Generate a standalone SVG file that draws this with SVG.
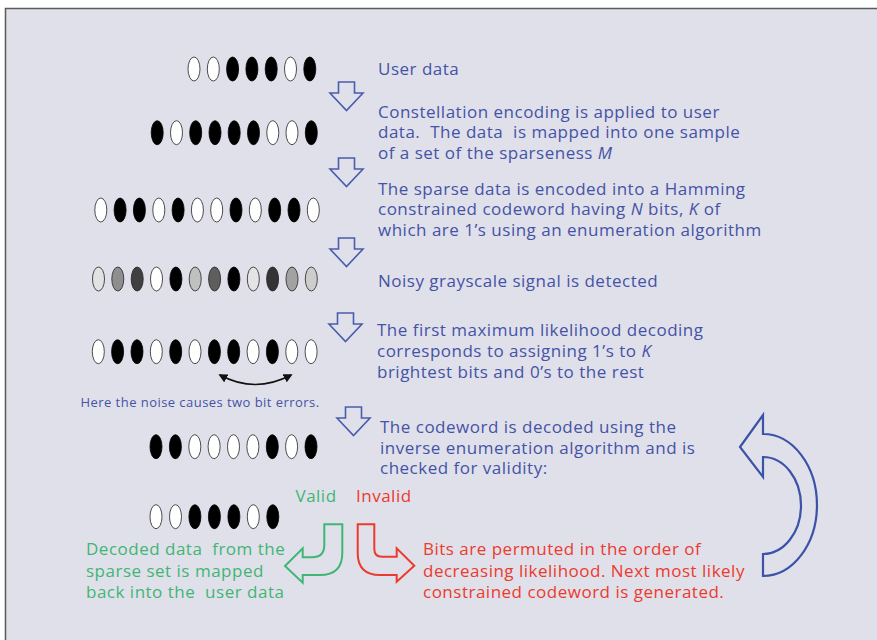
<svg xmlns="http://www.w3.org/2000/svg" width="877" height="640" viewBox="0 0 877 640">
  <style>
    .bg { fill: #e0e0ea; stroke: #5a5a5a; stroke-width: 1.5; }
    .w { fill: #ffffff; stroke: #222; stroke-width: 0.8; }
    .b { fill: #000000; stroke: #000; stroke-width: 0.8; }
    .t { font-family: "Open Sans", "Liberation Sans", sans-serif; font-size: 17px; letter-spacing: 0.5px; white-space: pre; }
    .blue { fill: #4553a6; }
    .green { fill: #3fb674; }
    .red { fill: #ec3a2d; }
    .note { font-family: "Open Sans", "Liberation Sans", sans-serif; font-size: 13px; letter-spacing: 0.45px; fill: #4553a6; }
    .down { fill: none; stroke: #4a5cae; stroke-width: 1.6; stroke-linejoin: miter; }
  </style>
  <defs>
    <ellipse id="e" cx="0" cy="0" rx="6" ry="12"/>
    <path id="dn" d="M8.5 0 H24.5 V11 H33 L16.5 28.5 L0 11 H8.5 Z"/>
    <marker id="ah" viewBox="0 0 10 10" refX="8" refY="5" markerWidth="9" markerHeight="9" orient="auto-start-reverse" markerUnits="userSpaceOnUse">
      <path d="M0 0 L10 5 L0 10 Z" fill="#111"/>
    </marker>
  </defs>

  <!-- panel -->
  <rect class="bg" x="5.5" y="8.5" width="900" height="700"/>

  <!-- bit rows -->
  <g id="row-user">
    <use href="#e" class="w" x="194" y="69"/>
    <use href="#e" class="w" x="213.3" y="69"/>
    <use href="#e" class="b" x="232.6" y="69"/>
    <use href="#e" class="b" x="251.9" y="69"/>
    <use href="#e" class="b" x="271.2" y="69"/>
    <use href="#e" class="w" x="290.5" y="69"/>
    <use href="#e" class="b" x="309.8" y="69"/>
  </g>
  <g id="row-sparse">
    <use href="#e" class="b" x="157.2" y="132.7"/>
    <use href="#e" class="w" x="176.5" y="132.7"/>
    <use href="#e" class="b" x="195.7" y="132.7"/>
    <use href="#e" class="b" x="215" y="132.7"/>
    <use href="#e" class="b" x="234.2" y="132.7"/>
    <use href="#e" class="b" x="253.5" y="132.7"/>
    <use href="#e" class="w" x="272.8" y="132.7"/>
    <use href="#e" class="w" x="292" y="132.7"/>
    <use href="#e" class="b" x="311.3" y="132.7"/>
  </g>
  <g id="row-codeword">
    <use href="#e" class="w" x="100.8" y="210"/>
    <use href="#e" class="b" x="120.1" y="210"/>
    <use href="#e" class="b" x="139.4" y="210"/>
    <use href="#e" class="w" x="158.8" y="210"/>
    <use href="#e" class="b" x="178.1" y="210"/>
    <use href="#e" class="w" x="197.4" y="210"/>
    <use href="#e" class="w" x="216.7" y="210"/>
    <use href="#e" class="b" x="236" y="210"/>
    <use href="#e" class="w" x="255.3" y="210"/>
    <use href="#e" class="b" x="274.7" y="210"/>
    <use href="#e" class="b" x="294" y="210"/>
    <use href="#e" class="w" x="313.3" y="210"/>
  </g>
  <g id="row-noisy">
    <use href="#e" class="w" x="98.5" y="279" style="fill:#e2e2e2"/>
    <use href="#e" class="w" x="117.8" y="279" style="fill:#8e8e8e"/>
    <use href="#e" class="w" x="137.2" y="279" style="fill:#404040"/>
    <use href="#e" class="w" x="156.5" y="279" style="fill:#ffffff"/>
    <use href="#e" class="b" x="175.9" y="279"/>
    <use href="#e" class="w" x="195.2" y="279" style="fill:#c0c0c0"/>
    <use href="#e" class="w" x="214.6" y="279" style="fill:#5e5e5e"/>
    <use href="#e" class="b" x="233.9" y="279"/>
    <use href="#e" class="w" x="253.3" y="279" style="fill:#e4e4e4"/>
    <use href="#e" class="w" x="272.6" y="279" style="fill:#343434"/>
    <use href="#e" class="w" x="292" y="279" style="fill:#a2a2a2"/>
    <use href="#e" class="w" x="311.3" y="279" style="fill:#cdcdcd"/>
  </g>
  <g id="row-decision">
    <use href="#e" class="w" x="98.3" y="351.7"/>
    <use href="#e" class="b" x="117.6" y="351.7"/>
    <use href="#e" class="b" x="137" y="351.7"/>
    <use href="#e" class="w" x="156.3" y="351.7"/>
    <use href="#e" class="b" x="175.7" y="351.7"/>
    <use href="#e" class="w" x="195" y="351.7"/>
    <use href="#e" class="b" x="214.4" y="351.7"/>
    <use href="#e" class="b" x="233.7" y="351.7"/>
    <use href="#e" class="w" x="253.1" y="351.7"/>
    <use href="#e" class="b" x="272.4" y="351.7"/>
    <use href="#e" class="w" x="291.8" y="351.7"/>
    <use href="#e" class="w" x="311.1" y="351.7"/>
  </g>
  <g id="row-decoded">
    <use href="#e" class="b" x="156" y="446.7"/>
    <use href="#e" class="b" x="175.4" y="446.7"/>
    <use href="#e" class="w" x="194.8" y="446.7"/>
    <use href="#e" class="w" x="214.1" y="446.7"/>
    <use href="#e" class="w" x="233.5" y="446.7"/>
    <use href="#e" class="w" x="252.9" y="446.7"/>
    <use href="#e" class="b" x="272.3" y="446.7"/>
    <use href="#e" class="w" x="291.6" y="446.7"/>
    <use href="#e" class="b" x="311" y="446.7"/>
  </g>
  <g id="row-output">
    <use href="#e" class="w" x="156" y="516.7"/>
    <use href="#e" class="w" x="175.5" y="516.7"/>
    <use href="#e" class="b" x="194.9" y="516.7"/>
    <use href="#e" class="b" x="214.4" y="516.7"/>
    <use href="#e" class="b" x="233.9" y="516.7"/>
    <use href="#e" class="w" x="253.3" y="516.7"/>
    <use href="#e" class="b" x="272.8" y="516.7"/>
  </g>

  <!-- connectors -->
  <g id="connectors">
    <use href="#dn" class="down" x="330" y="82"/>
    <use href="#dn" class="down" x="330" y="158"/>
    <use href="#dn" class="down" x="330" y="238"/>
    <use href="#dn" class="down" x="329" y="313"/>
    <use href="#dn" class="down" x="337" y="407"/>
    <!-- two bit errors swap -->
    <path d="M220 375 Q 255 394 291 375" fill="none" stroke="#111" stroke-width="1.6" marker-start="url(#ah)" marker-end="url(#ah)"/>
    <!-- valid branch -->
    <path d="M324.3 524.3 H342.3 V553 Q342.3 575 320 575 H302.7 V582.7 L285 566 L302.7 548.3 V557.3 H312 Q324.3 557.3 324.3 545 Z" fill="none" stroke="#3fb674" stroke-width="2" stroke-linejoin="miter"/>
    <!-- invalid branch -->
    <path d="M357.7 524.3 H374.3 V549 Q374.3 556.7 382 556.7 H396.7 V548.3 L414.3 565.7 L396.7 581.7 V575 H380 Q357.7 575 357.7 553 Z" fill="none" stroke="#ec3a2d" stroke-width="2" stroke-linejoin="miter"/>
    <!-- retry loop -->
    <path d="M740 447 L763 415 V434 A54 71 0 0 1 763 576 V554 A38 48.5 0 0 0 763 457 V477 Z" fill="none" stroke="#3a52a8" stroke-width="2.2" stroke-linejoin="miter"/>
  </g>

  <!-- step labels -->
  <g id="label-user" class="t blue"><text x="378" y="75">User data</text></g>
  <g id="label-constellation" class="t blue">
    <text x="378" y="117.7">Constellation encoding is applied to user</text>
    <text xml:space="preserve" x="378" y="138.3">data.  The data  is mapped into one sample</text>
    <text x="378" y="158.8">of a set of the sparseness <tspan font-style="italic">M</tspan></text>
  </g>
  <g id="label-hamming" class="t blue">
    <text x="378" y="195">The sparse data is encoded into a Hamming</text>
    <text x="378" y="215.3">constrained codeword having <tspan font-style="italic">N</tspan> bits, <tspan font-style="italic">K</tspan> of</text>
    <text x="378" y="235.6">which are 1’s using an enumeration algorithm</text>
  </g>
  <g id="label-noisy" class="t blue"><text x="378" y="286.7">Noisy grayscale signal is detected</text></g>
  <g id="label-ml" class="t blue">
    <text x="377" y="336">The first maximum likelihood decoding</text>
    <text x="377" y="357">corresponds to assigning 1’s to <tspan font-style="italic">K</tspan></text>
    <text x="377" y="378">brightest bits and 0’s to the rest</text>
  </g>
  <g id="label-errors"><text class="note" x="80.5" y="407.3">Here the noise causes two bit errors.</text></g>
  <g id="label-inverse" class="t blue">
    <text x="380" y="433.3">The codeword is decoded using the</text>
    <text x="380" y="453.6">inverse enumeration algorithm and is</text>
    <text x="380" y="473.9">checked for validity:</text>
  </g>
  <g id="label-valid" class="t green"><text x="295.5" y="501.7">Valid</text></g>
  <g id="label-invalid" class="t red"><text x="356" y="501.7">Invalid</text></g>
  <g id="label-decoded" class="t green">
    <text xml:space="preserve" x="86" y="555">Decoded data  from the</text>
    <text x="86" y="576.7">sparse set is mapped</text>
    <text xml:space="preserve" x="86" y="598.3">back into the  user data</text>
  </g>
  <g id="label-permute" class="t red">
    <text x="423" y="555">Bits are permuted in the order of</text>
    <text x="423" y="576.7">decreasing likelihood. Next most likely</text>
    <text x="423" y="598.3">constrained codeword is generated.</text>
  </g>
</svg>
